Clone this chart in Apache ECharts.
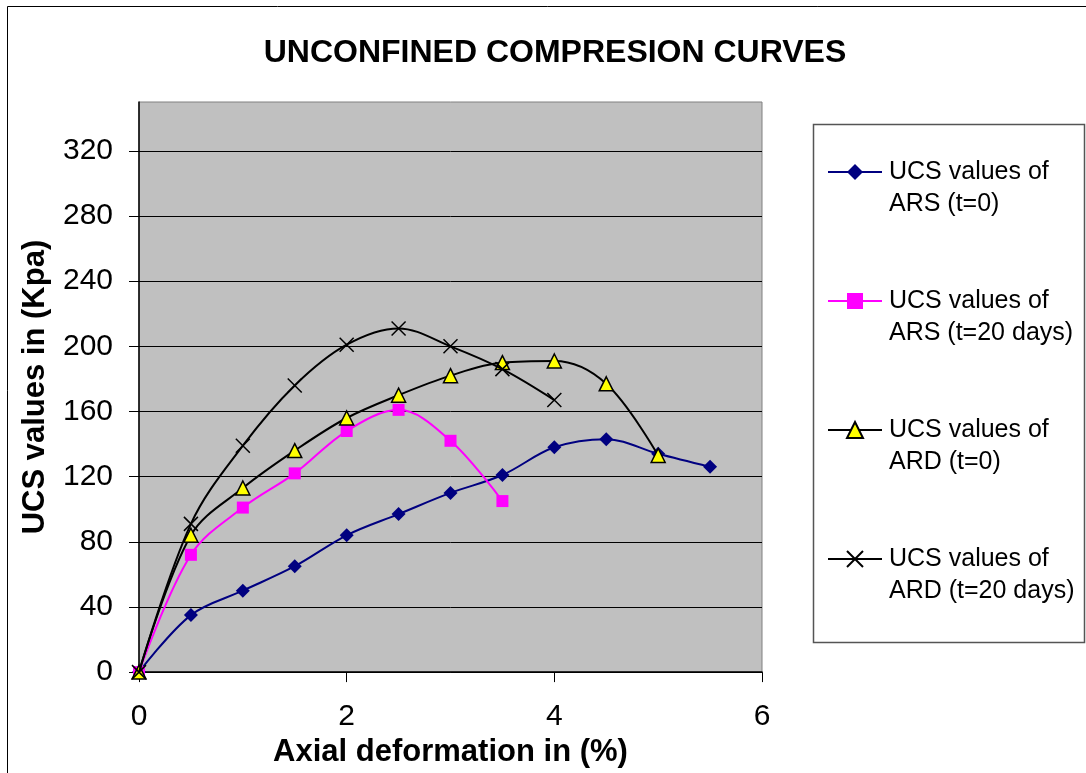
<!DOCTYPE html>
<html>
<head>
<meta charset="utf-8">
<script src="https://cdn.jsdelivr.net/npm/echarts@6/dist/echarts.min.js"></script>
<style>
  html, body { margin: 0; padding: 0; background: #fff; }
  #chart { width: 1086px; height: 773px; }
</style>
</head>
<body>
<div id="chart"></div>
<script>
// axial deformation (%) for each reading
const strainA = [0, 0.5, 1, 1.5, 2, 2.5, 3, 3.5, 4, 4.5, 5, 5.5];
const strainB = [0, 0.5, 1, 1.5, 2, 2.5, 3, 3.5];
const strainC = [0, 0.5, 1, 1.5, 2, 2.5, 3, 3.5, 4, 4.5, 5];
const strainD = [0, 0.5, 1, 1.5, 2, 2.5, 3, 3.5, 4];

// UCS values (Kpa)
const arsT0 = [0, 35, 50, 65, 84, 97, 110, 121, 138, 143, 134, 126];
const arsT20 = [0, 72, 101, 122, 148, 161, 142, 105];
const ardT0 = [0, 84, 113, 136, 156, 170, 182, 190, 191, 177, 133];
const ardT20 = [0, 91, 139, 176, 201, 211, 200, 186, 167];

const seriesNames = [
  'UCS values of\nARS (t=0)',
  'UCS values of\nARS (t=20 days)',
  'UCS values of\nARD (t=0)',
  'UCS values of\nARD (t=20 days)'
];
const yTicks = [0, 40, 80, 120, 160, 200, 240, 280, 320];
const xTicks = [0, 2, 4, 6];

const pair = (xs, ys) => xs.map((x, i) => [x, ys[i]]);
const FONT = '"Liberation Sans", Arial, sans-serif';

const chart = echarts.init(document.getElementById('chart'));

const option = {
  animation: false,
  backgroundColor: '#fff',
  title: {
    text: 'UNCONFINED COMPRESION CURVES',
    left: 550,
    textAlign: 'center',
    top: 32,
    textStyle: { fontFamily: FONT, fontSize: 32, fontWeight: 'bold', color: '#000' }
  },
  graphic: [
    { type: 'rect', shape: { x: 7.5, y: 6.5, width: 1090, height: 780 },
      style: { fill: 'none', stroke: '#000', lineWidth: 1 }, silent: true },
    { type: 'rect', shape: { x: 813.5, y: 124.5, width: 271, height: 518 },
      style: { fill: '#fff', stroke: '#555', lineWidth: 1.5 }, silent: true, z: 0 }
  ],
  legend: {
    orient: 'vertical',
    left: 827,
    top: 124,
    padding: 0,
    itemGap: 33,
    itemWidth: 54,
    itemHeight: 20,
    z: 5,
    formatter: name => '\n' + name,
    textStyle: { fontFamily: FONT, fontSize: 25, lineHeight: 32, color: '#000', padding: [0, 0, 0, 2] },
    data: seriesNames
  },
  grid: {
    left: 139,
    right: 324,
    top: 102,
    bottom: 99,
    show: true,
    backgroundColor: '#c0c0c0',
    borderColor: '#808080',
    borderWidth: 1
  },
  xAxis: {
    type: 'value',
    min: 0,
    max: 6,
    interval: 2,
    name: 'Axial deformation in (%)',
    nameLocation: 'middle',
    nameGap: 58,
    nameTextStyle: { fontFamily: FONT, fontSize: 31, fontWeight: 'bold', color: '#000' },
    axisLine: { show: true, lineStyle: { color: '#000', width: 1.5 } },
    axisTick: { show: true, length: 10, lineStyle: { color: '#000' } },
    axisLabel: { margin: 30, fontFamily: FONT, fontSize: 30, color: '#000', customValues: xTicks },
    splitLine: { show: false }
  },
  yAxis: {
    type: 'value',
    min: 0,
    max: 350,
    interval: 40,
    name: 'UCS values in (Kpa)',
    nameLocation: 'middle',
    nameGap: 88,
    nameTextStyle: { fontFamily: FONT, fontSize: 31, fontWeight: 'bold', color: '#000' },
    axisLine: { show: true, lineStyle: { color: '#000', width: 1.5 } },
    axisTick: { show: true, length: 10, lineStyle: { color: '#000' }, customValues: yTicks },
    axisLabel: { margin: 26, fontFamily: FONT, fontSize: 30, color: '#000', customValues: yTicks },
    splitLine: { show: true, lineStyle: { color: '#000', width: 1 } }
  },
  series: [
    {
      name: seriesNames[0],
      type: 'line',
      smooth: 0.35,
      data: pair(strainA, arsT0),
      symbol: 'diamond',
      symbolSize: 14,
      lineStyle: { color: '#000080', width: 2 },
      itemStyle: { color: '#000080' },
      z: 2
    },
    {
      name: seriesNames[1],
      type: 'line',
      smooth: 0.35,
      data: pair(strainB, arsT20),
      symbol: 'rect',
      symbolSize: 12,
      lineStyle: { color: '#ff00ff', width: 2 },
      itemStyle: { color: '#ff00ff' },
      z: 3
    },
    {
      name: seriesNames[2],
      type: 'line',
      smooth: 0.35,
      data: pair(strainC, ardT0),
      symbol: 'triangle',
      symbolSize: 14,
      lineStyle: { color: '#000', width: 2 },
      itemStyle: { color: '#ffff00', borderColor: '#000', borderWidth: 1.5 },
      z: 4
    },
    {
      name: seriesNames[3],
      type: 'line',
      smooth: 0.35,
      data: pair(strainD, ardT20),
      symbol: 'path://M0,0L10,10M10,0L0,10',
      symbolSize: 14,
      lineStyle: { color: '#000', width: 2 },
      itemStyle: { color: 'none', borderColor: '#000', borderWidth: 1.5 },
      z: 5
    }
  ]
};

chart.setOption(option);
</script>
</body>
</html>
